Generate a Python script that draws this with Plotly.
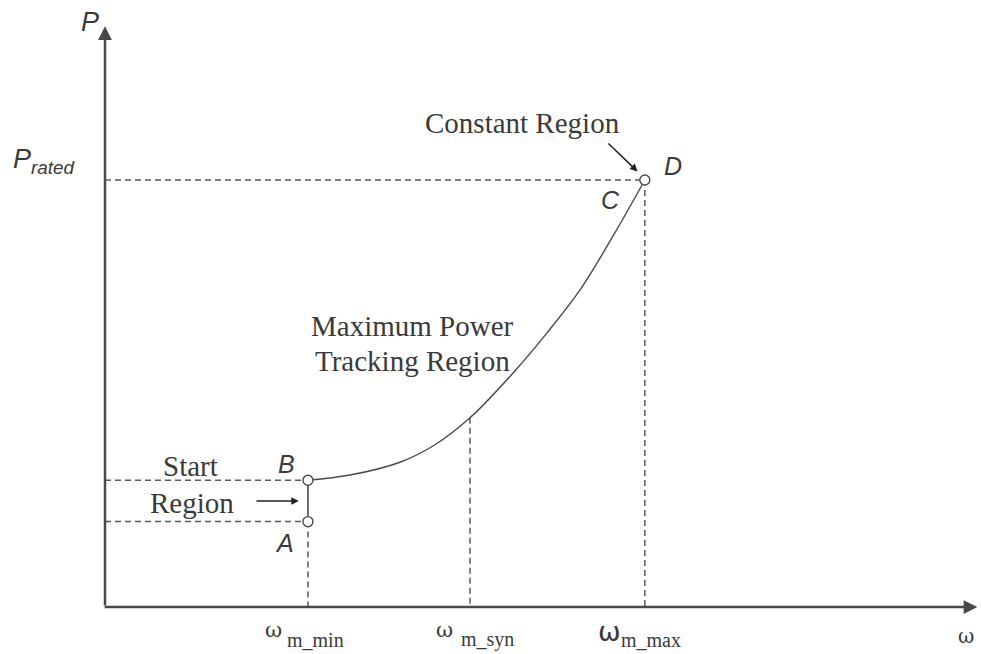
import plotly.graph_objects as go

# Operating speeds (per unit of synchronous speed) and power levels (per unit of rated power)
w_min, w_syn, w_max = 0.556, 1.0, 1.479
p_A, p_B, p_rated = 0.20, 0.297, 1.0
p_syn = 0.443

# Maximum power tracking curve between B and C
curve_w = [0.556, 0.671, 0.808, 0.904, 1.0, 1.118, 1.211, 1.301, 1.392, 1.479]
curve_p = [0.297, 0.309, 0.339, 0.380, 0.443, 0.548, 0.642, 0.742, 0.869, 1.0]

# Axis extents
w_axis_end, p_axis_end = 2.39, 1.36

# Speed tick labels: symbol and subscript
tick_speeds = [w_min, w_syn, w_max]
tick_subs = ["m_min", "m_syn", "m_max"]

LINE = "#4a4a4a"
DASH = "#5a5a5a"
TXT = "#3a3a3a"
SERIF = "Liberation Serif"
SANS = "Liberation Sans"

fig = go.Figure()

def dashed(xs, ys):
    fig.add_trace(go.Scatter(x=xs, y=ys, mode="lines",
                             line=dict(color=DASH, width=1.5, dash="6px,4px"),
                             hoverinfo="skip", showlegend=False))

# Reference guides
dashed([0, w_min], [p_B, p_B])
dashed([0, w_min], [p_A, p_A])
dashed([0, w_max], [p_rated, p_rated])
dashed([w_min, w_min], [p_A, 0])
dashed([w_syn, w_syn], [p_syn, 0])
dashed([w_max, w_max], [p_rated, 0])

# Start region (A -> B) and tracking curve (B -> C)
fig.add_trace(go.Scatter(x=[w_min, w_min], y=[p_A, p_B], mode="lines",
                         line=dict(color=LINE, width=1.6),
                         hoverinfo="skip", showlegend=False))
fig.add_trace(go.Scatter(x=curve_w, y=curve_p, mode="lines",
                         line=dict(color=LINE, width=1.4, shape="spline", smoothing=1.0),
                         hoverinfo="skip", showlegend=False))

# Operating points A, B, D
fig.add_trace(go.Scatter(x=[w_min, w_min, w_max], y=[p_A, p_B, p_rated], mode="markers",
                         marker=dict(symbol="circle", size=10, color="white",
                                     line=dict(color=LINE, width=1.4)),
                         hoverinfo="skip", showlegend=False))

# Axes with arrowheads
axis_style = dict(showarrow=True, arrowhead=2, arrowsize=1.1, arrowwidth=2.5,
                  arrowcolor="#484848", axref="x", ayref="y", text="")
fig.add_annotation(x=0, y=p_axis_end, ax=0, ay=0, **axis_style)
fig.add_annotation(x=w_axis_end, y=0, ax=-0.005, ay=0, **axis_style)

# Region arrows
fig.add_annotation(x=w_min - 0.025, y=(p_A + p_B) / 2, ax=w_min - 0.145, ay=(p_A + p_B) / 2,
                   axref="x", ayref="y", showarrow=True, arrowhead=2, arrowsize=1,
                   arrowwidth=1.5, arrowcolor="#222222", text="")
fig.add_annotation(x=w_max - 0.02, y=p_rated + 0.02, ax=w_max - 0.104, ay=p_rated + 0.089,
                   axref="x", ayref="y", showarrow=True, arrowhead=2, arrowsize=1,
                   arrowwidth=1.5, arrowcolor="#222222", text="")

def label(x, y, text, size, family, italic=False, xanchor="center"):
    fig.add_annotation(x=x, y=y, text=text, showarrow=False, xanchor=xanchor,
                       font=dict(size=size, family=family, color=TXT,
                                 style="italic" if italic else "normal"))

# Axis titles
label(-0.04, 1.37, "P", 27, SANS, italic=True)
label(-0.167, 1.045, "P<sub>rated</sub>", 27, SANS, italic=True)
label(w_axis_end - 0.03, -0.068, "ω", 20, "DejaVu Serif")

# Speed tick labels
sym_fonts = [("DejaVu Serif", 21), ("DejaVu Serif", 21), ("DejaVu Sans", 27)]
sym_dx = [-0.122, -0.100, -0.133]
sym_y = [-0.054, -0.054, -0.058]
for w, (fam, size), dx, y in zip(tick_speeds, sym_fonts, sym_dx, sym_y):
    label(w + dx, y, "ω", size, fam, xanchor="left")
for w, sub, dx in zip(tick_speeds, tick_subs, [-0.062, -0.03, -0.072]):
    label(w + dx, -0.077, sub, 20, SERIF, xanchor="left")

# Point letters
label(w_min - 0.063, 0.15, "A", 25, SANS, italic=True)
label(w_min - 0.058, 0.335, "B", 25, SANS, italic=True)
label(w_max - 0.093, 0.953, "C", 25, SANS, italic=True)
label(w_max + 0.077, 1.033, "D", 25, SANS, italic=True)

# Region names
label(1.143, 1.133, "Constant Region", 29, SERIF)
label(0.843, 0.659, "Maximum Power", 29, SERIF)
label(0.843, 0.577, "Tracking Region", 29, SERIF)
label(0.235, 0.331, "Start", 29, SERIF)
label(0.238, 0.244, "Region", 29, SERIF)

fig.update_layout(
    width=981, height=654,
    margin=dict(l=0, r=0, t=0, b=0),
    paper_bgcolor="white", plot_bgcolor="white",
    xaxis=dict(range=[-105 / 365, 876 / 365], visible=False, fixedrange=True),
    yaxis=dict(range=[-47 / 427, 607 / 427], visible=False, fixedrange=True),
    showlegend=False,
)

fig.write_html("out.html")
